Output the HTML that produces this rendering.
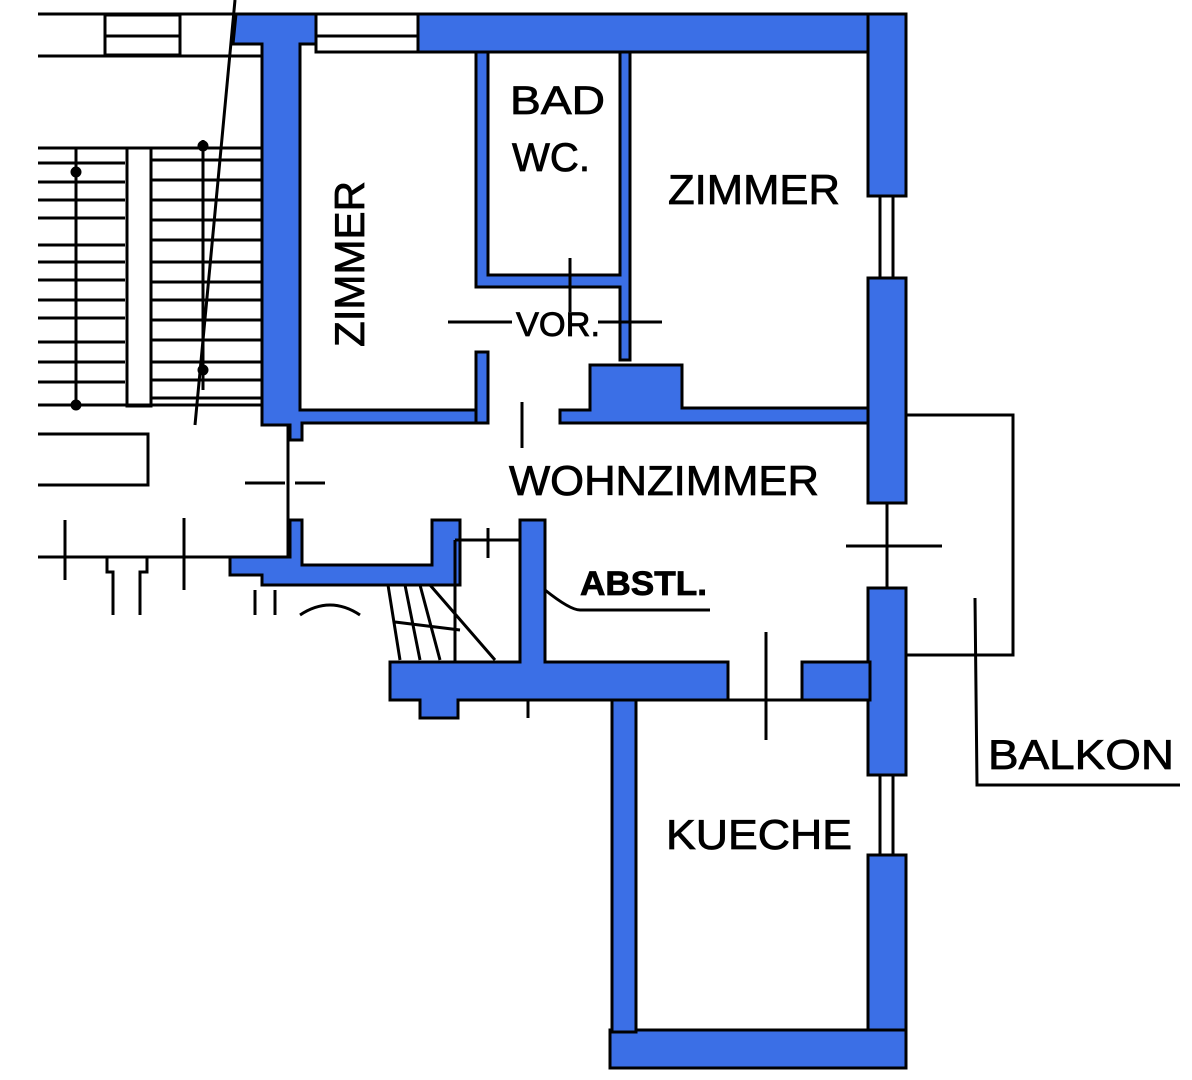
<!DOCTYPE html>
<html><head><meta charset="utf-8"><style>
html,body{margin:0;padding:0;background:#fff;}
svg{display:block;}
text{font-family:"Liberation Sans",sans-serif;fill:#000;stroke:#000;stroke-width:0.8;}
</style></head><body>
<svg width="1192" height="1080" viewBox="0 0 1192 1080" xmlns="http://www.w3.org/2000/svg">
<g fill="#3b6fe6" stroke="#000" stroke-width="3" stroke-linejoin="miter">
<polygon points="236,14 316,14 316,44 300,44 300,410 487,410 487,423 302,423 302,440 290,440 290,425 262,425 262,44 233,44"/>
<rect x="418" y="14" width="488" height="38"/>
<rect x="868" y="14" width="38" height="182"/>
<rect x="868" y="278" width="38" height="225"/>
<rect x="868" y="588" width="38" height="187"/>
<rect x="868" y="855" width="38" height="213"/>
<rect x="610" y="1030" width="296" height="38"/>
<rect x="612" y="700" width="24" height="332"/>
<polygon points="390,662 520,662 520,520 545,520 545,662 728,662 728,700 458,700 458,718 420,718 420,700 390,700"/>
<rect x="802" y="662" width="68" height="38"/>
<polygon points="290,520 302,520 302,565 432,565 432,520 460,520 460,585 262,585 262,575 230,575 230,557 290,557"/>
<polygon points="476,52 488,52 488,275 620,275 620,52 630,52 630,360 620,360 620,287 476,287"/>
<rect x="476" y="352" width="12" height="71"/>
<polygon points="590,365 682,365 682,408 868,408 868,423 560,423 560,410 590,410"/>
</g>
<g stroke="#000" stroke-width="3" fill="none">
<line x1="38" y1="14" x2="236" y2="14"/><line x1="38" y1="56" x2="262" y2="56"/>
<rect x="105" y="15" width="75" height="40"/><line x1="105" y1="36" x2="180" y2="36"/>
<rect x="316" y="14" width="102" height="38"/><line x1="316" y1="36" x2="418" y2="36"/>
<line x1="38" y1="148" x2="262" y2="148"/><line x1="38" y1="405" x2="262" y2="405"/>
<line x1="38" y1="163" x2="125" y2="163"/><line x1="38" y1="182" x2="125" y2="182"/>
<line x1="38" y1="200" x2="125" y2="200"/><line x1="38" y1="218" x2="125" y2="218"/>
<line x1="38" y1="245" x2="125" y2="245"/><line x1="38" y1="262" x2="125" y2="262"/>
<line x1="38" y1="280" x2="125" y2="280"/><line x1="38" y1="300" x2="125" y2="300"/>
<line x1="38" y1="318" x2="125" y2="318"/><line x1="38" y1="342" x2="125" y2="342"/>
<line x1="38" y1="362" x2="125" y2="362"/><line x1="38" y1="382" x2="125" y2="382"/>
<line x1="152" y1="160" x2="262" y2="160"/><line x1="152" y1="180" x2="262" y2="180"/>
<line x1="152" y1="200" x2="262" y2="200"/><line x1="152" y1="220" x2="262" y2="220"/>
<line x1="152" y1="240" x2="262" y2="240"/><line x1="152" y1="262" x2="262" y2="262"/>
<line x1="152" y1="282" x2="262" y2="282"/><line x1="152" y1="300" x2="262" y2="300"/>
<line x1="152" y1="320" x2="262" y2="320"/><line x1="152" y1="340" x2="262" y2="340"/>
<line x1="152" y1="362" x2="262" y2="362"/><line x1="152" y1="380" x2="262" y2="380"/>
<line x1="152" y1="398" x2="262" y2="398"/>
<rect x="127" y="148" width="24" height="258"/>
<line x1="76" y1="148" x2="76" y2="405"/>
<line x1="203" y1="140" x2="203" y2="390"/>
<line x1="235" y1="0" x2="195" y2="425"/>
<circle cx="76" cy="172" r="4" fill="#000"/><circle cx="76" cy="405" r="4" fill="#000"/>
<circle cx="203" cy="146" r="4" fill="#000"/><circle cx="203" cy="370" r="4" fill="#000"/>
<polyline points="38,434 148,434 148,485 38,485"/>
<line x1="245" y1="483" x2="325" y2="483" stroke-dasharray="40,10"/>
<line x1="288" y1="425" x2="288" y2="557"/>
<line x1="38" y1="557" x2="290" y2="557"/>
<line x1="65" y1="520" x2="65" y2="580"/><line x1="184" y1="518" x2="184" y2="590"/>
<polyline points="107,557 107,572 113,572 113,615"/><polyline points="147,557 147,572 140,572 140,615"/>
<path d="M255,590 V615 M275,590 V615 M300,615 Q330,595 360,615"/>
<path d="M388,585 L400,660 M405,585 L420,660 M420,585 L440,660 M430,585 L495,660 M395,622 L460,630"/>
<line x1="455" y1="540" x2="455" y2="662"/><line x1="455" y1="540" x2="520" y2="540"/>
<line x1="488" y1="528" x2="488" y2="558"/>
<path d="M545,590 Q570,610 580,610 L710,610"/>
<line x1="448" y1="322" x2="512" y2="322"/><line x1="598" y1="322" x2="662" y2="322"/>
<line x1="570" y1="258" x2="570" y2="312"/>
<line x1="522" y1="402" x2="522" y2="448"/>
<line x1="887" y1="503" x2="887" y2="588"/>
<line x1="846" y1="546" x2="942" y2="546"/>
<line x1="880" y1="196" x2="880" y2="278"/><line x1="893" y1="196" x2="893" y2="278"/>
<line x1="880" y1="775" x2="880" y2="855"/><line x1="893" y1="775" x2="893" y2="855"/>
<polyline points="906,415 1013,415 1013,655 906,655"/>
<polyline points="975,598 977,785 1180,785"/>
<line x1="766" y1="632" x2="766" y2="740"/>
<line x1="728" y1="700" x2="802" y2="700"/>
<line x1="528" y1="700" x2="528" y2="718"/>
</g>
<g>
<text x="510" y="114" font-size="40" textLength="95" lengthAdjust="spacingAndGlyphs">BAD</text>
<text x="512" y="171" font-size="40" textLength="78" lengthAdjust="spacingAndGlyphs">WC.</text>
<text x="668" y="204" font-size="42" textLength="172" lengthAdjust="spacingAndGlyphs">ZIMMER</text>
<text transform="translate(364,347) rotate(-90)" font-size="42" textLength="166" lengthAdjust="spacingAndGlyphs">ZIMMER</text>
<text x="516" y="336" font-size="34" textLength="84" lengthAdjust="spacingAndGlyphs">VOR.</text>
<text x="509" y="495" font-size="42" textLength="310" lengthAdjust="spacingAndGlyphs">WOHNZIMMER</text>
<text x="580" y="595" font-size="34" font-weight="bold" textLength="127" lengthAdjust="spacingAndGlyphs">ABSTL.</text>
<text x="666" y="849" font-size="42" textLength="186" lengthAdjust="spacingAndGlyphs">KUECHE</text>
<text x="988" y="769" font-size="42" textLength="186" lengthAdjust="spacingAndGlyphs">BALKON</text>
</g>
</svg>
</body></html>
